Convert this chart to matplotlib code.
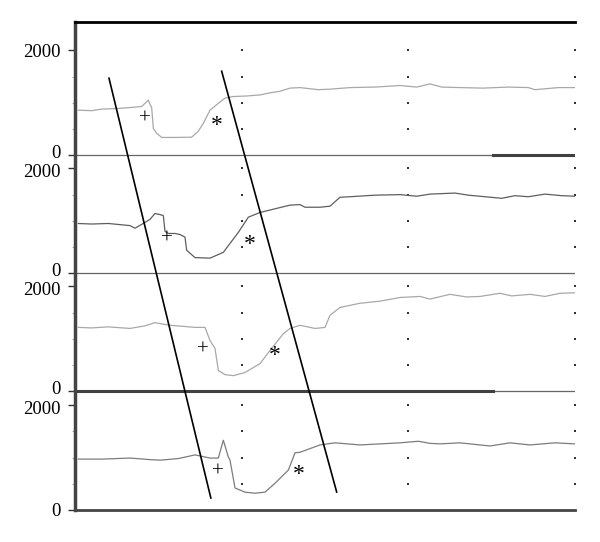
import numpy as np
import matplotlib
matplotlib.use("Agg")
import matplotlib.pyplot as plt
from matplotlib.transforms import offset_copy, ScaledTranslation

plt.rcParams['font.family'] = ['Liberation Serif', 'DejaVu Serif']

# 각 패널의 세로 오프셋 (위에서 아래로)
offsets = [6760, 4510, 2260, 0]
panel_top = 9300

# 패널 1
x1 = [2, 10, 16, 25, 33, 40, 44, 45, 46, 47, 49, 52, 60, 70, 74, 77, 81, 86,
      90, 95, 103, 111, 117, 123, 129, 135, 146, 153, 165, 180, 195, 205, 213,
      220, 231, 245, 260, 272, 276, 290, 300]
y1 = [860, 850, 880, 890, 910, 930, 1050, 970, 910, 510, 420, 340, 340, 345,
      460, 610, 860, 990, 1090, 1120, 1130, 1150, 1190, 1220, 1280, 1290, 1250,
      1260, 1290, 1300, 1330, 1300, 1360, 1300, 1290, 1280, 1300, 1290, 1250,
      1290, 1290]

# 패널 2
x2 = [2, 10, 20, 33, 36, 42, 45, 48, 51, 53, 54, 56, 60, 63, 66, 67, 72, 81,
      89, 93, 98, 104, 111, 120, 129, 135, 138, 147, 153, 159, 165, 180, 195,
      205, 213, 228, 236, 246, 256, 264, 272, 282, 292, 300]
y2 = [950, 940, 950, 910, 860, 970, 1030, 1140, 1120, 1100, 800, 760, 760,
      740, 690, 440, 300, 290, 400, 570, 780, 1070, 1160, 1230, 1300, 1310,
      1260, 1260, 1280, 1450, 1460, 1490, 1500, 1470, 1510, 1530, 1490, 1460,
      1430, 1480, 1460, 1510, 1480, 1470]

# 패널 3
x3 = [2, 10, 20, 33, 42, 48, 57, 65, 72, 78, 81, 84, 86, 90, 95, 102, 111, 117,
      125, 129, 135, 144, 150, 153, 159, 171, 183, 195, 207, 213, 225, 235, 243,
      255, 262, 273, 282, 291, 300]
y3 = [1220, 1210, 1230, 1200, 1250, 1310, 1260, 1240, 1220, 1220, 970, 820,
      400, 320, 300, 360, 530, 780, 1100, 1200, 1260, 1200, 1220, 1450, 1600,
      1680, 1720, 1790, 1810, 1760, 1850, 1800, 1810, 1870, 1820, 1850, 1810,
      1870, 1880]

# 패널 4
x4 = [2, 16, 25, 33, 45, 51, 62, 72, 81, 86, 89, 92, 93, 96, 102, 108, 114, 120,
      128, 132, 135, 147, 156, 171, 183, 195, 206, 213, 219, 231, 240, 249, 261,
      273, 288, 300]
y4 = [970, 970, 980, 990, 960, 950, 980, 1050, 990, 990, 1330, 1010, 950, 420,
      340, 320, 340, 510, 760, 1090, 1100, 1240, 1280, 1240, 1260, 1280, 1310,
      1270, 1260, 1280, 1250, 1220, 1280, 1240, 1280, 1260]

series_x = [x1, x2, x3, x4]
series_y = [y1, y2, y3, y4]
colors = ['#a8a8a8', '#5e5e5e', '#a8a8a8', '#7c7c7c']

# + 와 * 표시 위치 (패널 기준)
plus_x = [42, 55, 77, 86]
plus_y = [690, 650, 780, 720]
star_x = [85, 105, 120, 134]
star_y = [650, 630, 760, 760]

# 기울어진 두 직선
slant_a_x = [20.4, 81.5]
slant_a_y = [8229, 229]
slant_b_x = [88, 157]
slant_b_y = [8362, 343]

grid_x = [100, 200, 300]
grid_levels = [500, 1000, 1500, 2000]

fig = plt.figure(figsize=(6, 5.42), dpi=100)
ax = fig.add_axes([75 / 600, 32 / 542, 500 / 600, 488 / 542])
ax.set_xlim(0, 300)
ax.set_ylim(0, panel_top)

for xs, ys, c, off in zip(series_x, series_y, colors, offsets):
    ax.plot(xs, np.array(ys) + off, color=c, lw=0.9)

# 점 격자
gx, gy = [], []
for off in offsets:
    for g in grid_x:
        for lv in grid_levels:
            gx.append(g)
            gy.append(off + lv)
ax.scatter(gx, gy, s=1.5, color='#333333', marker='s', lw=0, clip_on=False)

# 패널 경계선
ax.plot([0, 300], [offsets[0]] * 2, color='#666666', lw=0.9)
ax.plot([251, 300], [offsets[0]] * 2, color='#404040', lw=2.2)
ax.plot([0, 300], [offsets[1]] * 2, color='#666666', lw=0.9)
ax.plot([0, 300], [offsets[2]] * 2, color='#666666', lw=0.9)
ax.plot([0, 251], [offsets[2]] * 2, color='#404040', lw=2.2)

ax.plot(slant_a_x, slant_a_y, color='black', lw=1.2)
ax.plot(slant_b_x, slant_b_y, color='black', lw=1.2)

star_tr = offset_copy(ax.transData, fig=fig, x=0, y=-4, units='dots')
for px, py, off in zip(plus_x, plus_y, offsets):
    ax.text(px, py + off, '+', fontsize=15, ha='center', va='center')
for px, py, off in zip(star_x, star_y, offsets):
    ax.text(px, py + off, '*', fontsize=17, ha='center', va='center',
            transform=star_tr)

# 축 설정
ticks, labels, minor = [], [], []
for off in offsets:
    ticks += [off, off + 2000]
    labels += ['0', '2000']
    minor += [off + 500, off + 1000, off + 1500]
ax.set_yticks(ticks)
ax.set_yticklabels(labels, fontsize=13.5)
ax.set_yticks(minor, minor=True)
ax.tick_params(axis='y', which='major', length=5, width=1, color='#333333', pad=5)
ax.tick_params(axis='y', which='minor', length=2, width=0.8, color='#aaaaaa')
ax.set_xticks([])

# 0 과 2000 라벨이 겹치지 않도록 살짝 벌림
for lab, val in zip(ax.get_yticklabels(), ticks):
    if val in offsets[:3]:
        lab.set_transform(lab.get_transform() + ScaledTranslation(0, 3.5 / 100, fig.dpi_scale_trans))
    elif val - 2000 in offsets[1:]:
        lab.set_transform(lab.get_transform() + ScaledTranslation(0, -2.5 / 100, fig.dpi_scale_trans))

ax.spines['right'].set_visible(False)
ax.spines['left'].set_linewidth(2.5)
ax.spines['left'].set_color('#444444')
ax.spines['top'].set_linewidth(2)
ax.spines['top'].set_color('black')
ax.spines['bottom'].set_linewidth(2)
ax.spines['bottom'].set_color('#444444')

plt.savefig('out.png', dpi=100)
